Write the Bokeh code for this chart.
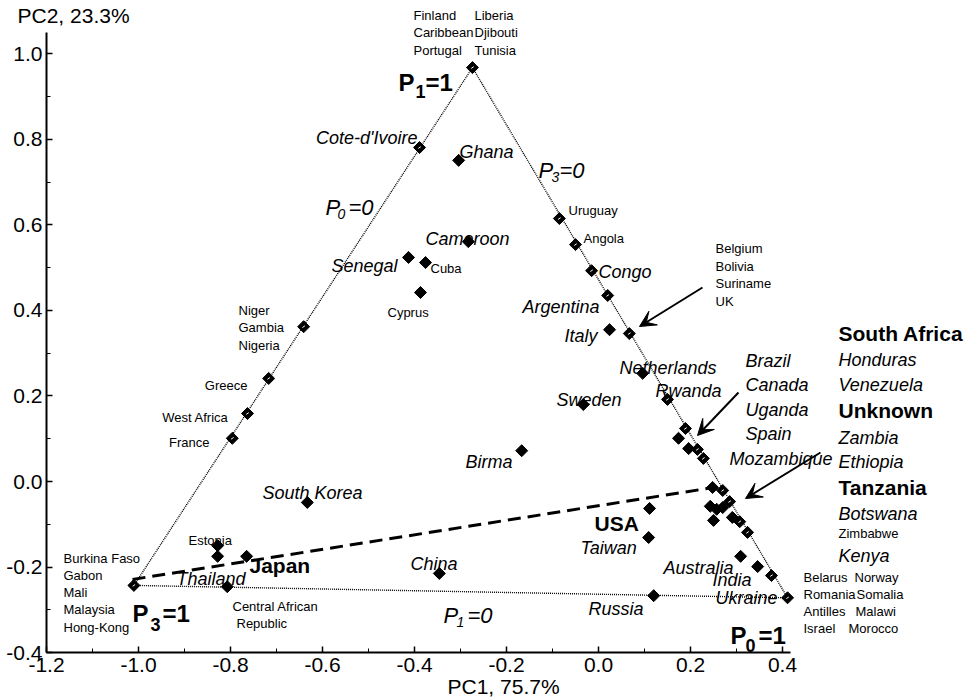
from bokeh.plotting import figure
from bokeh.models import (Label, Arrow, VeeHead, FixedTicker, Range1d,
                          NumeralTickFormatter, LinearAxis)
from bokeh.embed import file_html
from bokeh.resources import INLINE

# ---------------- data ----------------
# triangle vertices (P3=1, P1=1, P0=1)
tri_x = [-1.01, -0.274, 0.411, -1.01]
tri_y = [-0.243, 0.968, -0.272, -0.243]

# dashed line
dash_x = [-1.013, 0.25]
dash_y = [-0.229, -0.014]

# populations lying on the triangle edges
edge_x = [-0.274, -0.389, -0.641, -0.717, -0.763, -0.796,
          -0.085, -0.050, -0.015, 0.020, 0.067, 0.150, 0.189, 0.215, 0.228,
          0.270, 0.285, 0.307, 0.324, 0.376, 0.411, -1.01]
edge_y = [0.968, 0.781, 0.362, 0.241, 0.159, 0.101,
          0.615, 0.554, 0.493, 0.435, 0.346, 0.192, 0.124, 0.075, 0.054,
          -0.021, -0.047, -0.094, -0.119, -0.220, -0.272, -0.243]

# populations inside the triangle
in_x = [-0.304, -0.283, -0.413, -0.376, -0.387, 0.024, 0.096, -0.033, -0.167,
        0.174, 0.196, -0.633, -0.828, -0.828, -0.765, -0.807, -0.346,
        0.111, 0.109, 0.120, 0.248, 0.243, 0.257, 0.270, 0.250, 0.291, 0.309, 0.346]
in_y = [0.751, 0.561, 0.524, 0.512, 0.442, 0.355, 0.253, 0.180, 0.072,
        0.101, 0.077, -0.049, -0.150, -0.175, -0.175, -0.246, -0.215,
        -0.063, -0.131, -0.267, -0.014, -0.058, -0.065, -0.061, -0.091, -0.084, -0.175, -0.199]

x_ticks = [-1.2, -1.0, -0.8, -0.6, -0.4, -0.2, 0.0, 0.2, 0.4]
y_ticks = [-0.4, -0.2, 0.0, 0.2, 0.4, 0.6, 0.8, 1.0]

# ---------------- layout ----------------
W, H = 978, 700
SX, SY = 460.0, 427.6          # px per data unit
OX, OY = 598.0, 481.0          # canvas px of data (0, 0)
AX_X0, AX_X1 = -1.2, 0.4174    # drawn extent of the x axis
AX_Y0, AX_Y1 = -0.4, 1.05      # drawn extent of the y axis


def at(px, py):
    """canvas pixel position -> data coordinates"""
    return ((px - OX) / SX, (OY - py) / SY)


FONT = "Liberation Sans"

p = figure(width=W, height=H,
           x_range=Range1d(-OX / SX, (W - OX) / SX),
           y_range=Range1d(-(H - OY) / SY, OY / SY),
           x_axis_location=None, y_axis_location=None,
           output_backend="svg", toolbar_location=None,
           min_border=0, min_border_left=0, min_border_right=0,
           min_border_top=0, min_border_bottom=0)
p.outline_line_color = None
p.grid.visible = False
p.background_fill_color = "white"

xax = LinearAxis(fixed_location=AX_Y0, bounds=(AX_X0, AX_X1))
yax = LinearAxis(fixed_location=AX_X0, bounds=(AX_Y0, AX_Y1))
p.add_layout(xax, "below")
p.add_layout(yax, "left")

for ax in (xax, yax):
    ax.axis_line_width = 2
    ax.axis_line_color = "black"
    ax.major_tick_in = 6
    ax.major_tick_out = 0
    ax.minor_tick_in = 4
    ax.minor_tick_out = 0
    ax.major_tick_line_width = 1.5
    ax.major_tick_line_color = "black"
    ax.minor_tick_line_color = "black"
    ax.major_label_text_font = FONT
    ax.major_label_text_font_size = "21px"
    ax.major_label_text_color = "black"
    ax.formatter = NumeralTickFormatter(format="0.0")

xax.ticker = FixedTicker(ticks=x_ticks, minor_ticks=[v / 10 for v in range(-12, 5)])
yax.ticker = FixedTicker(ticks=y_ticks, minor_ticks=[v / 10 for v in range(-4, 11)])
xax.major_label_standoff = 5
yax.major_label_standoff = 4
yax.major_label_text_baseline = "alphabetic"

# triangle edges (dotted)
p.line(tri_x, tri_y, line_color="black", line_dash="1 1", line_width=1.4)
# dashed line
p.line(dash_x, dash_y, line_color="black", line_dash="13 7", line_width=3)

# points
p.scatter(in_x, in_y, marker="square", angle=0.785398, size=8.5,
          fill_color="black", line_color="black")
p.scatter(edge_x, edge_y, marker="square", angle=0.785398, size=8.5,
          fill_color="black", line_color="black")
p.scatter(edge_x, edge_y, marker="dash", angle=0.6, size=3,
          line_color="white", line_width=1)

# arrows
for (sx, sy, ex, ey) in [(702, 287, 639, 326), (738, 392, 697, 435), (820, 452, 745, 498)]:
    x_s, y_s = at(sx, sy)
    x_e, y_e = at(ex, ey)
    p.add_layout(Arrow(end=VeeHead(size=16, fill_color="black", line_color="black"),
                       x_start=x_s, y_start=y_s, x_end=x_e, y_end=y_e,
                       line_width=2, line_color="black"))


def lab(text, px, py, size, style="normal", align="left", baseline="middle"):
    x, y = at(px, py)
    p.add_layout(Label(x=x, y=y, text=text, text_font=FONT, text_font_size=f"{size}px",
                       text_font_style=style, text_align=align, text_baseline=baseline,
                       text_color="black"))


small = [("Finland", 413, 15), ("Caribbean", 413, 32), ("Portugal", 413, 50),
         ("Liberia", 474, 15), ("Djibouti", 474, 32), ("Tunisia", 474, 50),
         ("Uruguay", 568, 210), ("Angola", 583, 238),
         ("Cuba", 430, 268), ("Cyprus", 387, 312),
         ("Niger", 238, 310), ("Gambia", 238, 327), ("Nigeria", 238, 345),
         ("Estonia", 188, 540),
         ("Burkina Faso", 63, 558), ("Gabon", 63, 575), ("Mali", 63, 592),
         ("Malaysia", 63, 609), ("Hong-Kong", 63, 627),
         ("Central African", 232, 606), ("Republic", 236, 623),
         ("Belgium", 715, 248), ("Bolivia", 715, 266), ("Suriname", 715, 283), ("UK", 715, 301),
         ("Zimbabwe", 838, 533),
         ("Belarus", 803, 577), ("Norway", 854, 577), ("Romania", 803, 594), ("Somalia", 856, 594),
         ("Antilles", 803, 611), ("Malawi", 855, 611), ("Israel", 803, 628), ("Morocco", 848, 628)]
for t, x, y in small:
    lab(t, x, y, 13)
for t, x, y in [("Greece", 247, 385), ("West Africa", 228, 417), ("France", 209, 442)]:
    lab(t, x, y, 13, align="right")

italic_l = [("Ghana", 459, 151), ("Cameroon", 425, 238), ("Congo", 598, 271),
            ("Netherlands", 619, 367), ("Rwanda", 655, 390), ("Sweden", 556, 399),
            ("South Korea", 262, 492), ("Thailand", 176, 578), ("China", 410, 563),
            ("Taiwan", 580, 547), ("Russia", 588, 608), ("Australia", 663, 567),
            ("India", 712, 579), ("Ukraine", 715, 597),
            ("Brazil", 745, 360), ("Canada", 745, 384), ("Uganda", 745, 409), ("Spain", 745, 433),
            ("Mozambique", 729, 458),
            ("Honduras", 838, 359), ("Venezuela", 838, 384), ("Zambia", 838, 437),
            ("Ethiopia", 838, 461), ("Botswana", 838, 513), ("Kenya", 838, 555)]
for t, x, y in italic_l:
    lab(t, x, y, 18, "italic")
for t, x, y in [("Cote-d'Ivoire", 417, 137), ("Senegal", 397, 265), ("Argentina", 599, 306),
                ("Italy", 597, 335), ("Birma", 512, 461)]:
    lab(t, x, y, 18, "italic", align="right")

for t, x, y in [("South Africa", 838, 333), ("Unknown", 838, 410), ("Tanzania", 838, 487),
                ("USA", 594, 523), ("Japan", 249, 565)]:
    lab(t, x, y, 21, "bold")


# P labels with subscripts
def plabel(sub, rhs, px, py, style, size, subsize, sub_dx, rhs_dx, sub_dy):
    lab("P", px, py, size, style, baseline="alphabetic")
    lab(sub, px + sub_dx, py + sub_dy, subsize, style, baseline="alphabetic")
    lab(rhs, px + rhs_dx, py, size, style, baseline="alphabetic")


plabel("0", "=0", 325, 207, "italic", 22, 14, 12, 23, 6)
plabel("3", "=0", 538, 170, "italic", 22, 14, 13, 21, 6)
plabel("1", "=0", 443, 615, "italic", 22, 14, 13, 24, 6)
plabel("1", "=1", 398, 82, "bold", 24, 18, 17, 27, 9)
plabel("3", "=1", 132, 613, "bold", 24, 18, 18, 30, 11)
plabel("0", "=1", 730, 635, "bold", 24, 18, 15, 28, 10)

# axis titles
lab("PC2, 23.3%", 17, 15, 21)
lab("PC1, 75.7%", 447, 686, 21)

open("out.html", "w").write(file_html(p, INLINE))
